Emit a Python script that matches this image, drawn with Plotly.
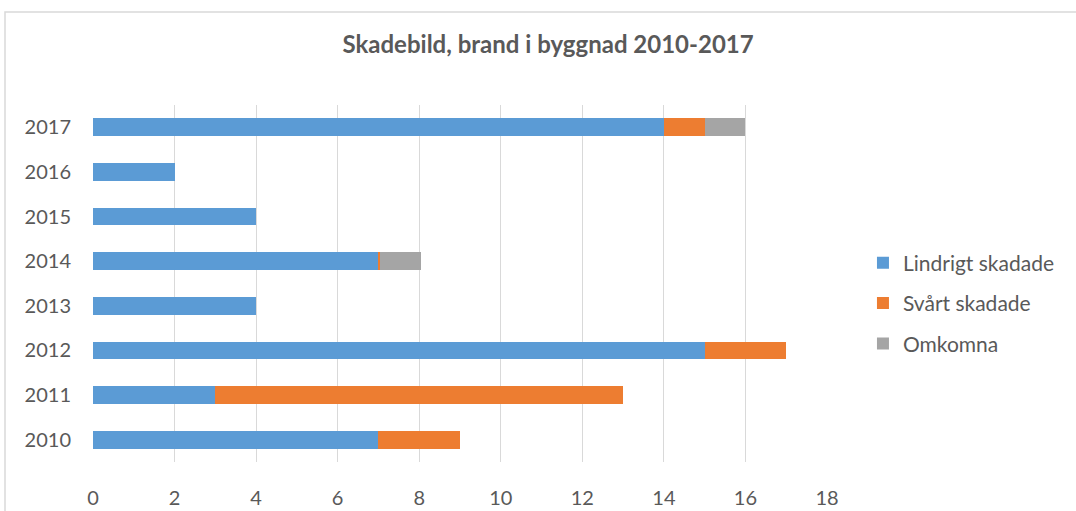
import plotly.graph_objects as go

years = ["2010", "2011", "2012", "2013", "2014", "2015", "2016", "2017"]
lindrigt = [7, 3, 15, 4, 7, 4, 2, 14]
svart = [2, 10, 2, 0, 0.04, 0, 0, 1]
omkomna = [0, 0, 0, 0, 1, 0, 0, 1]
x_ticks = [0, 2, 4, 6, 8, 10, 12, 14, 16, 18]

series = [
    ("Lindrigt skadade", lindrigt, "#5B9BD5"),
    ("Svårt skadade", svart, "#ED7D31"),
    ("Omkomna", omkomna, "#A5A5A5"),
]

fig = go.Figure()
for i, (name, vals, col) in enumerate(series):
    fig.add_trace(go.Bar(
        y=years, x=vals, name=name, orientation="h",
        marker=dict(color=col, line=dict(width=0)),
        legendgroup=name,
    ))

txt = "#595959"
fig.update_layout(
    width=1076, height=511,
    barmode="stack", bargap=0.6,
    plot_bgcolor="white", paper_bgcolor="white",
    margin=dict(l=93, r=249, t=105, b=49, autoexpand=False),
    font=dict(family="Lato, 'Open Sans', sans-serif", color=txt, size=18),
    title=dict(text="<b>Skadebild, brand i byggnad 2010-2017</b>",
               x=0.62, xref="paper", xanchor="center", y=0.912, yanchor="middle",
               font=dict(size=24, color=txt)),
    xaxis=dict(range=[0, 18], tickvals=x_ticks, showgrid=True,
               gridcolor="#D9D9D9", gridwidth=1, zeroline=False,
               showline=False, ticks="", ticklabelstandoff=22, automargin=False,
               tickfont=dict(size=20, color=txt)),
    yaxis=dict(type="category", categoryorder="array", categoryarray=years,
               showgrid=False, showline=False, ticks="", ticklabelstandoff=21,
               automargin=False, tickfont=dict(size=20, color=txt)),
    legend=dict(x=1.049, y=0.445, xanchor="left", yanchor="middle",
                traceorder="grouped", tracegroupgap=10,
                font=dict(size=21, color=txt), itemwidth=30),
    shapes=[dict(type="rect", xref="paper", yref="paper",
                 x0=(5 - 93) / 734, x1=1.6, y0=-0.5, y1=(462 - 12) / 357,
                 line=dict(color="#D9D9D9", width=1.5), fillcolor="rgba(0,0,0,0)",
                 layer="below")],
)

fig.write_html("out.html", config={"displayModeBar": False},
               post_script="document.body.style.margin='0';")
